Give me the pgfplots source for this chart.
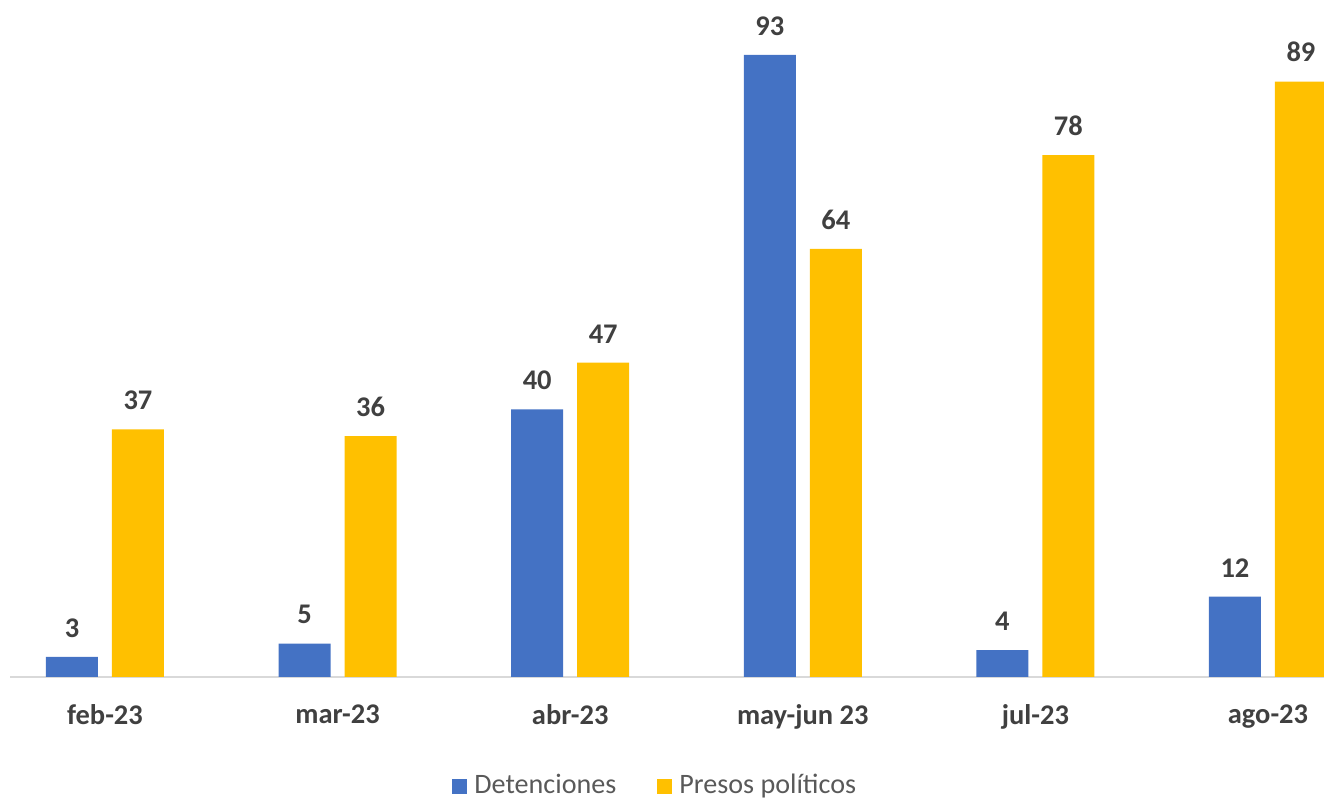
\documentclass[border=0pt]{standalone}
\usepackage{fontspec}
\setmainfont{Carlito}
\usepackage{pgfplots}
\pgfplotsset{compat=1.18}
\definecolor{detblue}{HTML}{4472C4}
\definecolor{presyel}{HTML}{FFC000}
\definecolor{labgray}{HTML}{404040}
\definecolor{leggray}{HTML}{595959}
\definecolor{axgray}{HTML}{D9D9D9}
\begin{document}
\begin{tikzpicture}[x=1mm,y=1mm]
\begin{axis}[
  at={(0,0)}, anchor=south west,
  scale only axis,
  width=131.4mm, height=66.9mm,
  ybar=1.4mm,
  bar width=5.2mm,
  xmin=-0.4084, xmax=5.2408,
  ymin=0, ymax=100,
  axis y line=none,
  axis x line*=bottom,
  x axis line style={axgray, line width=0.6pt, -},
  xtick={0,1,2,3,4,5},
  xticklabels={feb-23,mar-23,abr-23,may-jun 23,jul-23,ago-23},
  major tick length=0pt,
  xticklabel style={font=\fontsize{8.1}{9.5}\selectfont\bfseries, text=labgray, yshift=-1.5mm},
  /pgf/number format/assume math mode=true,
  nodes near coords,
  every node near coord/.append style={font=\fontsize{8.1}{9.5}\selectfont\bfseries, text=labgray, yshift=0.7mm},
  clip=true,
  legend columns=2,
  legend style={at={(0.493,-0.163)}, anchor=center, draw=none, fill=none,
    font=\fontsize{8}{9.5}\selectfont, text=leggray,
    /tikz/every even column/.append style={column sep=3.4mm}},
  legend image code/.code={\fill[#1,draw=none] (0,-0.75mm) rectangle (1.5mm,0.75mm);},
]
\addplot[fill=detblue, draw=none] coordinates {(0,3) (1,5) (2,40) (3,93) (4,4) (5,12)};
\addplot[fill=presyel, draw=none] coordinates {(0,37) (1,36) (2,47) (3,64) (4,78) (5,89)};
\legend{Detenciones, Presos políticos}
\end{axis}
\pgfresetboundingbox
\path (-1,-12.1) rectangle (131.4,67.7);
\end{tikzpicture}
\end{document}
